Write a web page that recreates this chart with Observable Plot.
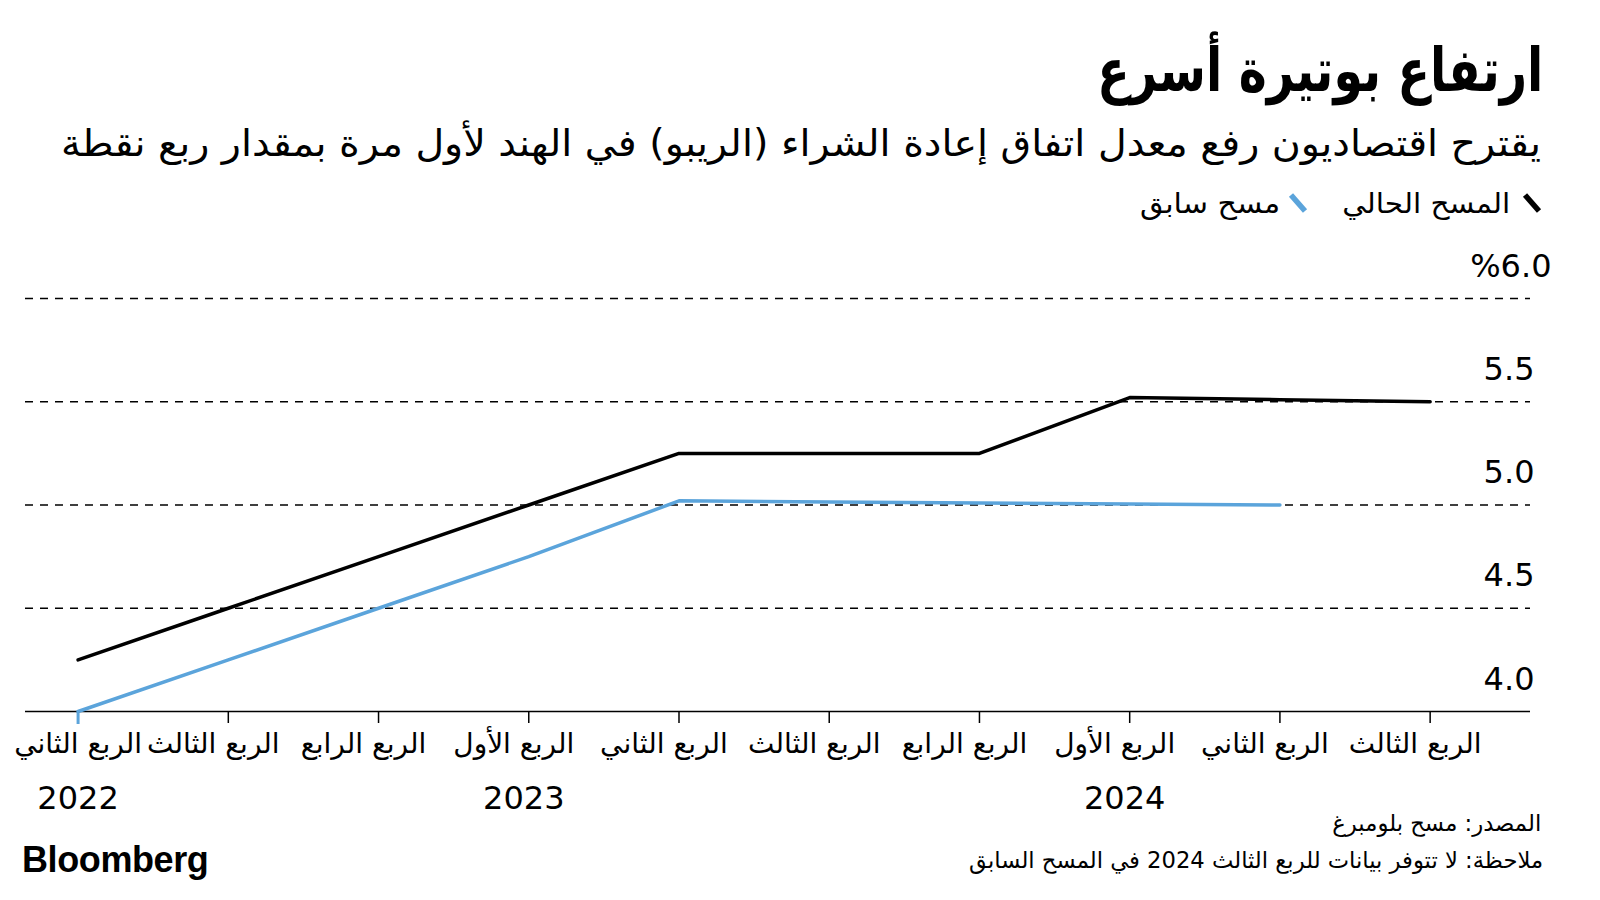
<!DOCTYPE html>
<html>
<head>
<meta charset="utf-8">
<script src="https://cdn.jsdelivr.net/npm/d3@7"></script>
<script src="https://cdn.jsdelivr.net/npm/@observablehq/plot@0.6"></script>
<style>
  html, body { margin: 0; padding: 0; background: #fff; }
  #page { position: relative; width: 1600px; height: 900px; overflow: hidden; background: #fff; font-family: "DejaVu Sans Condensed", "DejaVu Sans", sans-serif; color: #000; }
  .ar { position: absolute; direction: rtl; white-space: nowrap; line-height: 1; }
  .fit { display: inline-block; transform-origin: right center; }
  #title { right: 57px; top: 40px; font-weight: bold; font-size: 60px; }
  #subtitle { right: 59px; top: 125px; font-size: 37px; }
  #legend { right: 0; top: 0; width: 1600px; height: 240px; position: absolute; }
  .lg { position: absolute; top: 190px; font-size: 28px; line-height: 1; direction: rtl; white-space: nowrap; }
  .sw { position: absolute; top: 192px; }
  #source { right: 59px; top: 812px; font-size: 23px; }
  #note { right: 57px; top: 849px; font-size: 23px; }
  #logo { position: absolute; left: 22px; top: 842px; font-family: "Liberation Sans", Arial, sans-serif; font-weight: bold; font-size: 36px; letter-spacing: -0.4px; line-height: 1; }
  #chart { position: absolute; left: 0; top: 240px; }
</style>
</head>
<body>
<div id="page">
  <div id="title" class="ar"><span class="fit" data-w="446">ارتفاع بوتيرة أسرع</span></div>
  <div id="subtitle" class="ar"><span class="fit" data-w="1480">يقترح اقتصاديون رفع معدل اتفاق إعادة الشراء (الريبو) في الهند لأول مرة بمقدار ربع نقطة</span></div>
  <div id="legend"></div>
  <div id="chart"></div>
  <div id="source" class="ar"><span class="fit" data-w="209">المصدر: مسح بلومبرغ</span></div>
  <div id="note" class="ar"><span class="fit" data-w="574">ملاحظة: لا تتوفر بيانات للربع الثالث 2024 في المسح السابق</span></div>
  <div id="logo">Bloomberg</div>
</div>
<script>
// ---- data ----
const quarterLabels = ["الربع الثاني","الربع الثالث","الربع الرابع","الربع الأول","الربع الثاني","الربع الثالث","الربع الرابع","الربع الأول","الربع الثاني","الربع الثالث"];
const currentSurvey = [4.25, 4.5, 4.75, 5.0, 5.25, 5.25, 5.25, 5.52, 5.51, 5.50];
const previousSurvey = [4.0, 4.25, 4.5, 4.75, 5.02, 5.015, 5.01, 5.005, 5.0, null];
const yearLabels = ["2022", "2023", "2024"];
const yearStartIndex = [0, 3, 7];
const yTicks = [4.0, 4.5, 5.0, 5.5, 6.0];
const seriesNames = ["المسح الحالي", "مسح سابق"];
const seriesColors = ["#000000", "#5ba4db"];

// ---- legend (icon left / text right edge / text width, from reference) ----
const legendLayout = [
  { iconLeft: 1522, textRight: 1510, textWidth: 168 },
  { iconLeft: 1288, textRight: 1280, textWidth: 140 }
];
const legend = document.getElementById("legend");
seriesNames.forEach((name, i) => {
  const L = legendLayout[i];
  const icon = document.createElementNS("http://www.w3.org/2000/svg", "svg");
  icon.setAttribute("class", "sw");
  icon.setAttribute("width", "20");
  icon.setAttribute("height", "22");
  icon.style.left = L.iconLeft + "px";
  icon.innerHTML = `<line x1="3" y1="3" x2="17" y2="19" stroke="${seriesColors[i]}" stroke-width="5.5"/>`;
  legend.appendChild(icon);
  const t = document.createElement("div");
  t.className = "lg";
  t.style.right = (1600 - L.textRight) + "px";
  t.innerHTML = `<span class="fit" data-w="${L.textWidth}">${name}</span>`;
  legend.appendChild(t);
});

// ---- chart ----
const idx = d3.range(quarterLabels.length);
const fontNum = "'DejaVu Sans', sans-serif";
const tickLabelOpts = {
  tickSize: 12, tickPadding: 10, strokeWidth: 1.5,
  tickFormat: i => quarterLabels[i],
  fontSize: 28, fontFamily: "'DejaVu Sans', sans-serif"
};
const chart = Plot.plot({
  width: 1600,
  height: 580,
  marginTop: 58,
  marginBottom: 109,
  marginLeft: 25,
  marginRight: 70,
  style: { fontFamily: fontNum, background: "transparent", overflow: "visible" },
  x: { domain: [-0.35, 9.668], axis: null },
  y: { domain: [4, 6], axis: null },
  marks: [
    Plot.ruleY(yTicks.filter(v => v > 4), { stroke: "#000", strokeWidth: 1.3, strokeDasharray: "8,7" }),
    Plot.axisX(idx, { ...tickLabelOpts, tickSize: 12 }),
    Plot.axisX([0], { tickSize: 13, stroke: seriesColors[1], strokeWidth: 3, tickFormat: () => "" }),
    Plot.ruleY([4.0], { stroke: "#000", strokeWidth: 1.6 }),
    Plot.lineY(previousSurvey, { x: (d, i) => i, y: d => d, stroke: seriesColors[1], strokeWidth: 3.5, strokeLinejoin: "miter" }),
    Plot.lineY(currentSurvey, { x: (d, i) => i, y: d => d, stroke: seriesColors[0], strokeWidth: 3.5, strokeLinejoin: "miter" }),
    Plot.text(yTicks.filter(v => v < 6), { y: d => d, text: d => d.toFixed(1), frameAnchor: "right", textAnchor: "end", lineAnchor: "bottom", dx: 4, dy: -22, fontSize: 32 }),
    Plot.text(yTicks.filter(v => v === 6), { y: d => d, text: d => "%" + d.toFixed(1), frameAnchor: "right", textAnchor: "end", lineAnchor: "bottom", dx: 21, dy: -22, fontSize: 32 }),
    Plot.text(yearLabels.slice(0, 1), { x: (d, i) => yearStartIndex[i], text: d => d, frameAnchor: "bottom", lineAnchor: "bottom", dy: 97, fontSize: 32 }),
    Plot.text(yearLabels.slice(1), { x: (d, i) => yearStartIndex[i + 1], text: d => d, frameAnchor: "bottom", lineAnchor: "bottom", dy: 97, dx: -5, fontSize: 32 })
  ]
});
document.getElementById("chart").appendChild(chart);

// the reference sets its quarter labels slightly left of their ticks (except the first, held at the edge)
chart.querySelectorAll('g[aria-label="x-axis tick label"]').forEach(g => {
  const texts = g.querySelectorAll("text");
  if (texts.length === quarterLabels.length) {
    texts.forEach((t, i) => { if (i > 0) t.setAttribute("dx", "-15"); });
  }
});

// fit Arabic text blocks to their measured widths in the reference
document.querySelectorAll(".fit").forEach(el => {
  const w = el.getBoundingClientRect().width;
  const target = +el.dataset.w;
  if (w > 0) el.style.transform = `scaleX(${target / w})`;
});
</script>
</body>
</html>
